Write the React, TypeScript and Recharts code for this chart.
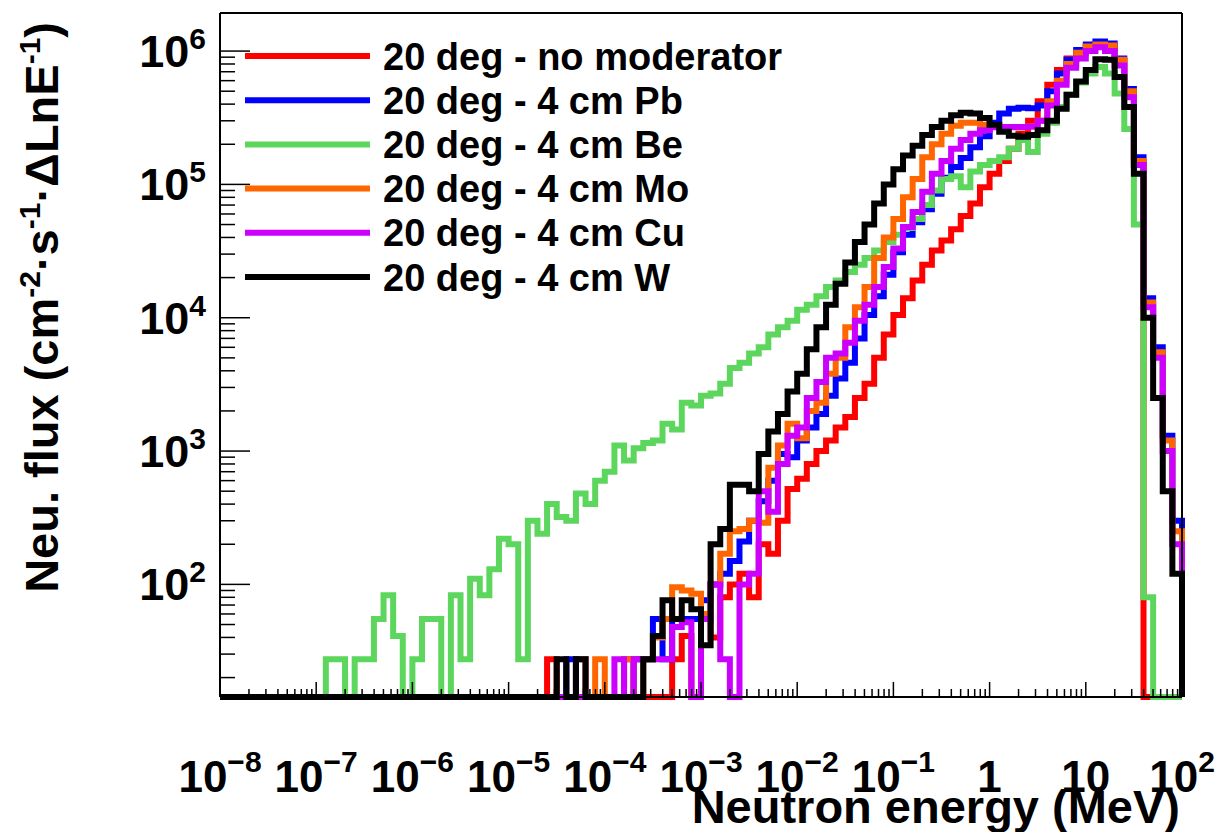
import { Legend, Line, LineChart, XAxis, YAxis } from "recharts";

// Energy binning: log bins, 10 per decade, 1e-8 .. 1e2 MeV
const ENERGY_DECADES = [-8, -7, -6, -5, -4, -3, -2, -1, 0, 1, 2];
const BINS_PER_DECADE = 10;
const N_BINS = 100;

// Flux axis range and labelled decades
const FLUX_MIN = 14.3;
const FLUX_MAX = 1.93e6;
const FLUX_DECADES = [2, 3, 4, 5, 6];

// Bin contents, first entry is bin `start`; empty bins are 0
const noModeratorStart = 30;
const noModerator = [
  0, 0, 0, 0, 27.5, 0, 0, 27.5, 0, 0,
  0, 0, 27.5, 0, 0, 0, 0, 27.5, 41, 0,
  55, 40, 80, 100, 120, 80, 200, 170, 300, 520,
  620, 800, 1000, 1200, 1500, 1800, 2500, 3200, 5000, 7500,
  10500, 14000, 19000, 25000, 32000, 38000, 46000, 58000, 72000, 95000,
  120000, 150000, 185000, 240000, 300000, 420000, 560000, 720000, 880000, 960000,
  1080000, 1130000, 1100000, 850000, 470000, 140000, 0, 0, 0, 0,
];

const leadStart = 30;
const lead = [
  0, 0, 0, 0, 0, 0, 27.5, 0, 0, 0,
  0, 0, 0, 27.5, 27.5, 55, 27.5, 55, 55, 55,
  76, 100, 120, 150, 210, 300, 420, 600, 950, 900,
  1200, 1500, 1900, 2600, 3500, 4600, 7000, 10500, 14500, 21000,
  31000, 42000, 52000, 65000, 85000, 112000, 135000, 158000, 190000, 230000,
  290000, 340000, 370000, 375000, 372000, 390000, 500000, 680000, 860000, 1020000,
  1120000, 1180000, 1140000, 880000, 520000, 160000, 14000, 6000, 1300, 300,
];

const berylliumStart = 10;
const beryllium = [
  0, 27.5, 27.5, 0, 27.5, 27.5, 55, 83, 41, 0,
  27.5, 55, 55, 0, 83, 27.5, 110, 83, 130, 220,
  200, 27.5, 300, 240, 400, 320, 300, 480, 400, 600,
  700, 1100, 850, 1050, 1150, 1200, 1600, 1450, 2300, 2200,
  2600, 2700, 3200, 4200, 4600, 5400, 6000, 7500, 8500, 9500,
  11500, 12500, 14500, 17000, 19000, 22000, 25000, 28000, 32000, 37000,
  42000, 47000, 55000, 70000, 90000, 110000, 115000, 95000, 125000, 140000,
  150000, 160000, 185000, 215000, 175000, 240000, 290000, 380000, 470000, 580000,
  680000, 760000, 680000, 480000, 260000, 50000, 80, 0, 0, 0,
];

const molybdenumStart = 30;
const molybdenum = [
  0, 0, 0, 0, 0, 0, 0, 0, 0, 27.5,
  0, 0, 27.5, 0, 27.5, 40, 55, 95, 90, 85,
  60, 100, 170, 250, 260, 300, 290, 750, 1100, 1600,
  1250, 2000, 2300, 3800, 5000, 8500, 12000, 17000, 28000, 40000,
  55000, 80000, 110000, 160000, 200000, 240000, 275000, 290000, 290000, 280000,
  272000, 268000, 268000, 268000, 272000, 300000, 420000, 600000, 800000, 970000,
  1080000, 1120000, 1100000, 860000, 500000, 150000, 13000, 5500, 1200, 250,
];

const copperStart = 30;
const copper = [
  0, 0, 0, 0, 0, 0, 0, 0, 0, 0,
  0, 27.5, 0, 27.5, 27.5, 27.5, 27.5, 48, 52, 0,
  55, 100, 27.5, 0, 100, 120, 500, 350, 800, 1300,
  1500, 2500, 3300, 5000, 5400, 6500, 9500, 12500, 17000, 24000,
  33000, 48000, 62000, 88000, 120000, 150000, 185000, 215000, 240000, 255000,
  268000, 270000, 270000, 270000, 272000, 300000, 390000, 560000, 750000, 880000,
  1000000, 1070000, 1000000, 780000, 450000, 140000, 12000, 5000, 1000, 200,
];

const tungstenStart = 30;
const tungsten = [
  0, 0, 0, 0, 0, 27.5, 0, 27.5, 0, 0,
  0, 0, 0, 0, 27.5, 41, 76, 55, 76, 65,
  35, 200, 260, 560, 560, 500, 950, 1400, 1900, 2800,
  3800, 5800, 8500, 12500, 18000, 26000, 37000, 50000, 72000, 100000,
  130000, 165000, 195000, 235000, 270000, 300000, 330000, 345000, 340000, 315000,
  280000, 248000, 232000, 228000, 235000, 255000, 300000, 370000, 470000, 590000,
  720000, 870000, 860000, 640000, 380000, 120000, 10000, 2500, 500, 120,
];

const SERIES = [
  { name: "20 deg - no moderator", color: "#ff0000", start: noModeratorStart, values: noModerator },
  { name: "20 deg - 4 cm Pb", color: "#0000ff", start: leadStart, values: lead },
  { name: "20 deg - 4 cm Be", color: "#5cd65c", start: berylliumStart, values: beryllium },
  { name: "20 deg - 4 cm Mo", color: "#ff6600", start: molybdenumStart, values: molybdenum },
  { name: "20 deg - 4 cm Cu", color: "#cc00ff", start: copperStart, values: copper },
  { name: "20 deg - 4 cm W", color: "#000000", start: tungstenStart, values: tungsten },
];

const FONT = "'Liberation Sans', Arial, Helvetica, sans-serif";

// frame of the plot area
const PLOT_LEFT = 220;
const PLOT_RIGHT = 1182;
const PLOT_TOP = 13;
const PLOT_BOTTOM = 697;

const binEdge = (i: number) => 10 ** (ENERGY_DECADES[0] + i / BINS_PER_DECADE);

// histogram outline: empty bins sit on the lower frame edge
const toSteps = (start: number, values: number[]) => {
  const pts: { energy: number; flux: number }[] = [];
  for (let i = 0; i < N_BINS; i++) {
    const v = values[i - start] ?? 0;
    pts.push({ energy: binEdge(i), flux: v > 0 ? v : FLUX_MIN });
  }
  pts.push({ energy: binEdge(N_BINS), flux: FLUX_MIN });
  return pts;
};

const isDecade = (v: number) => Math.abs(Math.log10(v) - Math.round(Math.log10(v))) < 1e-6;

const energyTicks = ENERGY_DECADES.flatMap((d) =>
  d === ENERGY_DECADES[ENERGY_DECADES.length - 1] ? [10 ** d] : [1, 2, 3, 4, 5, 6, 7, 8, 9].map((m) => m * 10 ** d)
);
const fluxTicks = [1, ...FLUX_DECADES]
  .flatMap((d) => [1, 2, 3, 4, 5, 6, 7, 8, 9].map((m) => m * 10 ** d))
  .filter((v) => v >= FLUX_MIN && v <= FLUX_MAX);

const powerLabel = (exp: number, supSize: number, rise: number) => {
  if (exp === 0) return "1";
  if (exp === 1) return "10";
  return [
    "10",
    <tspan key="e" dy={-rise} fontSize={supSize}>
      {exp < 0 ? `\u2212${-exp}` : exp}
    </tspan>,
  ];
};

const BottomTick = (props: any) => {
  const { x, payload } = props;
  const major = isDecade(payload.value);
  return (
    <g>
      <line x1={x} x2={x} y1={PLOT_BOTTOM} y2={PLOT_BOTTOM - (major ? 15 : 8)} stroke="#000" strokeWidth={1.5} />
      {major && (
        <text
          x={x}
          y={792}
          textAnchor="middle"
          fontFamily={FONT}
          fontWeight="bold"
          fontSize={44}
          fill="#000"
        >
          {powerLabel(Math.round(Math.log10(payload.value)), 30, 20)}
        </text>
      )}
    </g>
  );
};

const TopTick = (props: any) => {
  const { x, payload } = props;
  const major = isDecade(payload.value);
  return <line x1={x} x2={x} y1={PLOT_TOP} y2={PLOT_TOP + (major ? 15 : 8)} stroke="#000" strokeWidth={1.5} />;
};

const LeftTick = (props: any) => {
  const { y, payload } = props;
  const major = isDecade(payload.value);
  return (
    <g>
      <line x1={PLOT_LEFT} x2={PLOT_LEFT + (major ? 30 : 15)} y1={y} y2={y} stroke="#000" strokeWidth={1.5} />
      {major && (
        <text x={206} y={y + 16} textAnchor="end" fontFamily={FONT} fontWeight="bold" fontSize={45} fill="#000">
          {powerLabel(Math.round(Math.log10(payload.value)), 30, 18)}
        </text>
      )}
    </g>
  );
};

const RightTick = (props: any) => {
  const { y, payload } = props;
  const major = isDecade(payload.value);
  return <line x1={PLOT_RIGHT} x2={PLOT_RIGHT - (major ? 30 : 15)} y1={y} y2={y} stroke="#000" strokeWidth={1.5} />;
};

const EnergyTitle = () => (
  <text x={1180} y={823} textAnchor="end" fontFamily={FONT} fontWeight="bold" fontSize={47} fill="#000">
    Neutron energy (MeV)
  </text>
);

const FluxTitle = () => (
  <text
    transform="translate(58,22) rotate(-90)"
    textAnchor="end"
    fontFamily={FONT}
    fontWeight="bold"
    fontSize={47}
    fill="#000"
  >
    Neu. flux (cm
    <tspan dy={-18} fontSize={30}>-2</tspan>
    <tspan dy={18}>·s</tspan>
    <tspan dy={-18} fontSize={30}>-1</tspan>
    <tspan dy={18}>·ΔLnE</tspan>
    <tspan dy={-18} fontSize={30}>-1</tspan>
    <tspan dy={18}>)</tspan>
  </text>
);

const LegendBox = () => (
  <svg width={1222} height={832} style={{ position: "absolute", left: 0, top: 0 }}>
    {SERIES.map((s, k) => {
      const y = 56 + k * 44.2;
      return (
        <g key={s.name}>
          <line x1={245} x2={370} y1={y} y2={y} stroke={s.color} strokeWidth={6} />
          <text x={383} y={y + 13.5} fontFamily={FONT} fontWeight="bold" fontSize={38} fill="#000">
            {s.name}
          </text>
        </g>
      );
    })}
  </svg>
);

const axisLine = { stroke: "#000", strokeWidth: 2 };
const energyDomain = [10 ** ENERGY_DECADES[0], 10 ** ENERGY_DECADES[ENERGY_DECADES.length - 1]];

export default function App() {
  return (
    <div style={{ position: "absolute", left: 0, top: 0, background: "#fff" }}>
      <LineChart width={1222} height={832} margin={{ top: 0, right: 0, bottom: 0, left: 0 }}>
        <XAxis
          dataKey="energy"
          type="number"
          scale="log"
          domain={energyDomain}
          ticks={energyTicks}
          interval={0}
          height={832 - PLOT_BOTTOM}
          tickSize={0}
          tickMargin={0}
          axisLine={axisLine}
          tick={BottomTick}
          label={{ content: EnergyTitle }}
        />
        <XAxis
          xAxisId="top"
          orientation="top"
          type="number"
          scale="log"
          domain={energyDomain}
          ticks={energyTicks}
          interval={0}
          height={PLOT_TOP}
          tickSize={0}
          tickMargin={0}
          axisLine={axisLine}
          tick={TopTick}
        />
        <YAxis
          type="number"
          scale="log"
          domain={[FLUX_MIN, FLUX_MAX]}
          ticks={fluxTicks}
          interval={0}
          width={PLOT_LEFT}
          tickSize={0}
          tickMargin={0}
          axisLine={axisLine}
          tick={LeftTick}
          label={{ content: FluxTitle }}
        />
        <YAxis
          yAxisId="right"
          orientation="right"
          type="number"
          scale="log"
          domain={[FLUX_MIN, FLUX_MAX]}
          ticks={fluxTicks}
          interval={0}
          width={1222 - PLOT_RIGHT}
          tickSize={0}
          tickMargin={0}
          axisLine={axisLine}
          tick={RightTick}
        />
        {SERIES.map((s) => (
          <Line
            key={s.name}
            name={s.name}
            data={toSteps(s.start, s.values)}
            dataKey="flux"
            type="stepAfter"
            stroke={s.color}
            strokeWidth={6}
            dot={false}
            activeDot={false}
            isAnimationActive={false}
          />
        ))}
        <Legend
          layout="horizontal"
          verticalAlign="middle"
          align="center"
          content={LegendBox}
          wrapperStyle={{ left: 0, top: 0, width: 1222, height: 832, pointerEvents: "none" }}
        />
      </LineChart>
    </div>
  );
}
